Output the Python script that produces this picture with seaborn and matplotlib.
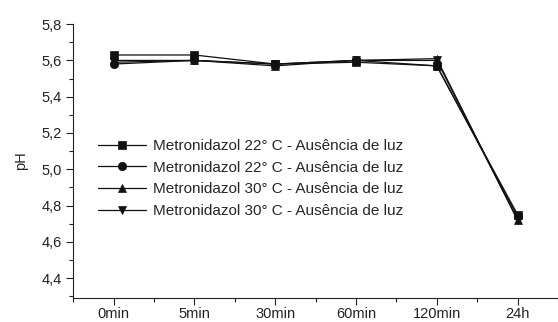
import matplotlib
matplotlib.use('Agg')
import matplotlib.pyplot as plt
from matplotlib.ticker import MultipleLocator, FuncFormatter
import seaborn as sns
import numpy as np

times = ['0min', '5min', '30min', '60min', '120min', '24h']
labels = ['Metronidazol 22° C - Ausência de luz',
          'Metronidazol 22° C - Ausência de luz',
          'Metronidazol 30° C - Ausência de luz',
          'Metronidazol 30° C - Ausência de luz']
markers = ['s', 'o', '^', 'v']
ph_22_a = [5.63, 5.63, 5.58, 5.59, 5.57, 4.75]
ph_22_b = [5.58, 5.60, 5.58, 5.60, 5.57, 4.74]
ph_30_a = [5.60, 5.60, 5.57, 5.60, 5.61, 4.72]
ph_30_b = [5.59, 5.60, 5.58, 5.60, 5.60, 4.72]
series = [ph_22_a, ph_22_b, ph_30_a, ph_30_b]

sns.set_style('ticks')
plt.rcParams['font.family'] = ['Liberation Sans', 'DejaVu Sans']

fig = plt.figure(figsize=(5.58, 3.22), dpi=100)
ax = fig.add_axes([0.131, 0.0745, 0.869, 0.8505])

x = np.arange(len(times))
for vals, lab, m in zip(series, labels, markers):
    sns.lineplot(x=x, y=vals, ax=ax, color='#111111', marker=m, markersize=6,
                 markeredgecolor='#111111', markeredgewidth=0.5, linewidth=0.9,
                 label=lab)

ax.set_xlim(-0.5, 5.5)
ax.set_ylim(4.29, 5.8)
ax.set_xticks(x)
ax.set_xticklabels(times)
ax.set_xticks(np.arange(-0.5, 6, 1), minor=True)
ax.yaxis.set_major_locator(MultipleLocator(0.2))
ax.yaxis.set_minor_locator(MultipleLocator(0.1))
ax.yaxis.set_major_formatter(FuncFormatter(lambda v, p: f'{v:.1f}'.replace('.', ',')))
ax.set_ylabel('pH', fontsize=10.5, labelpad=10)
ax.set_xlabel('')
ax.tick_params(axis='y', which='major', labelsize=10.5, length=5, width=0.8, pad=3, colors='#222222')
ax.tick_params(axis='x', which='major', labelsize=10.5, length=5, width=0.8, pad=1.5, colors='#222222')
ax.tick_params(axis='both', which='minor', length=3, width=0.8, colors='#222222')
for s in ['top', 'right']:
    ax.spines[s].set_visible(False)
for s in ['left', 'bottom']:
    ax.spines[s].set_linewidth(0.8)
    ax.spines[s].set_color('#222222')

ax.legend(loc='upper left', bbox_to_anchor=(0.052, 0.58), frameon=False,
          borderaxespad=0, borderpad=0, handlelength=3.1, handletextpad=0.45,
          labelspacing=0.5, fontsize=11)

fig.savefig('out.png', dpi=100)
